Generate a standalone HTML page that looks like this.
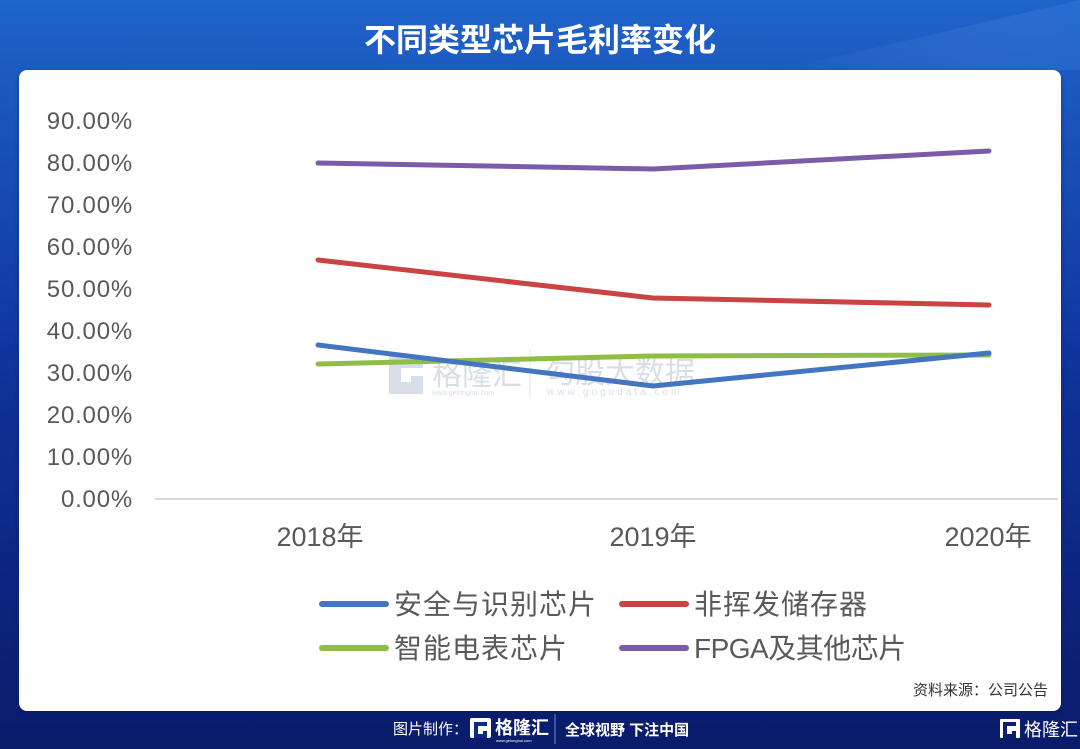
<!DOCTYPE html>
<html>
<head>
<meta charset="utf-8">
<style>
html,body{margin:0;padding:0;}
body{width:1080px;height:749px;overflow:hidden;}
svg{display:block;}
</style>
</head>
<body>
<svg width="1080" height="749" viewBox="0 0 1080 749" xmlns="http://www.w3.org/2000/svg">
  <defs>
    <linearGradient id="bg" x1="0" y1="0" x2="0" y2="1">
      <stop offset="0" stop-color="#1f64cb"/>
      <stop offset="0.15" stop-color="#1a55bb"/>
      <stop offset="0.5" stop-color="#0f339a"/>
      <stop offset="1" stop-color="#0a1b6a"/>
    </linearGradient>
    <linearGradient id="sheen" x1="0" y1="0" x2="1" y2="0">
      <stop offset="0" stop-color="#ffffff" stop-opacity="0"/>
      <stop offset="1" stop-color="#5aa0ff" stop-opacity="0.15"/>
    </linearGradient>
    <filter id="sh" x="-5%" y="-5%" width="110%" height="110%">
      <feGaussianBlur stdDeviation="2"/>
    </filter>
  </defs>

  <!-- background -->
  <rect x="0" y="0" width="1080" height="749" fill="url(#bg)"/>
  <polygon points="780,70 1080,0 1080,70" fill="url(#sheen)"/>

  <!-- title -->
  <text x="540" y="51" text-anchor="middle" fill="#ffffff" font-size="32" font-weight="bold" font-family="'Liberation Sans','Noto Sans CJK SC',sans-serif">不同类型芯片毛利率变化</text>

  <!-- card -->
  <rect x="19" y="72" width="1042" height="641" rx="8" ry="8" fill="#0a1a60" opacity="0.5" filter="url(#sh)"/>
  <rect x="19" y="70" width="1042" height="641" rx="8" ry="8" fill="#ffffff"/>

  <!-- y labels -->
  <g font-family="'Liberation Sans',sans-serif" font-size="24" fill="#595959" text-anchor="end" letter-spacing="0.8">
    <text x="133" y="129">90.00%</text>
    <text x="133" y="171">80.00%</text>
    <text x="133" y="213">70.00%</text>
    <text x="133" y="255">60.00%</text>
    <text x="133" y="297">50.00%</text>
    <text x="133" y="339">40.00%</text>
    <text x="133" y="381">30.00%</text>
    <text x="133" y="423">20.00%</text>
    <text x="133" y="465">10.00%</text>
    <text x="133" y="507">0.00%</text>
  </g>

  <!-- x axis -->
  <line x1="155" y1="499" x2="1058" y2="499" stroke="#d9d9d9" stroke-width="2"/>

  <!-- x labels -->
  <g font-family="'Liberation Sans','Noto Sans CJK SC',sans-serif" font-size="27" fill="#595959" text-anchor="middle">
    <text x="320" y="546">2018年</text>
    <text x="653" y="546">2019年</text>
    <text x="988" y="546">2020年</text>
  </g>

  <!-- watermark -->
  <g opacity="0.55">
    <path d="M389,356 h34 v12 h-22 v14 h10 v-6 h12 v18 h-34 z" fill="#b8c4d6"/>
    <text x="432" y="385" font-family="'Liberation Sans','Noto Sans CJK SC',sans-serif" font-size="30" fill="#b8c4d6">格隆汇</text>
    <text x="432" y="395" font-family="'Liberation Sans',sans-serif" font-size="7" fill="#b8c4d6">www.gelonghui.com</text>
    <line x1="530" y1="350" x2="530" y2="398" stroke="#c8d0dc" stroke-width="1"/>
    <text x="545" y="383" font-family="'Liberation Sans','Noto Sans CJK SC',sans-serif" font-size="30" fill="#b8c4d6">勾股大数据</text>
    <text x="547" y="395" font-family="'Liberation Sans',sans-serif" font-size="10" fill="#b8c4d6" letter-spacing="3">www.gogudata.com</text>
  </g>

  <!-- series -->
  <g fill="none" stroke-width="5" stroke-linecap="round" stroke-linejoin="round">
    <polyline points="318,163 653,169 989,151" stroke="#7b5ca8"/>
    <polyline points="318,260 653,298 989,305" stroke="#c94442"/>
    <polyline points="318,364 653,356 989,355" stroke="#8fbd45"/>
    <polyline points="318,345 653,386 989,353" stroke="#4475c0"/>
  </g>

  <!-- legend -->
  <g stroke-width="6" stroke-linecap="round">
    <line x1="322" y1="604" x2="386" y2="604" stroke="#4475c0"/>
    <line x1="622" y1="604" x2="686" y2="604" stroke="#c94442"/>
    <line x1="322" y1="648" x2="386" y2="648" stroke="#8fbd45"/>
    <line x1="622" y1="648" x2="686" y2="648" stroke="#7b5ca8"/>
  </g>
  <g font-family="'Liberation Sans','Noto Sans CJK SC',sans-serif" font-size="28" fill="#595959">
    <text x="394" y="614" letter-spacing="1">安全与识别芯片</text>
    <text x="694" y="614" letter-spacing="1">非挥发储存器</text>
    <text x="394" y="658" letter-spacing="1">智能电表芯片</text>
    <text x="694" y="658" letter-spacing="-0.5">FPGA及其他芯片</text>
  </g>

  <!-- source -->
  <text x="1048" y="695" text-anchor="end" font-family="'Liberation Sans','Noto Sans CJK SC',sans-serif" font-size="15" fill="#333333">资料来源：公司公告</text>

  <!-- footer -->
  <g font-family="'Liberation Sans','Noto Sans CJK SC',sans-serif" fill="#ffffff">
    <text x="393" y="734" font-size="15">图片制作：</text>
    <rect x="470" y="718" width="21" height="20" rx="2" fill="#ffffff"/>
    <path d="M474,722 h13 v4 h-9 v8 h5 v-3 h4 v7 h-13 z" fill="#0d2a86"/>
    <text x="495" y="734" font-size="18" font-weight="bold">格隆汇</text>
    <text x="496" y="742" font-size="4">www.gelonghui.com</text>
    <line x1="555" y1="714" x2="555" y2="744" stroke="#6f86c8" stroke-width="1"/>
    <text x="565" y="735" font-size="15" font-weight="bold">全球视野 下注中国</text>

    <rect x="1000" y="719" width="20" height="19" rx="1" fill="#ffffff"/>
    <path d="M1003,722 h13 v4 h-9 v8 h5 v-3 h4 v7 h-13 z" fill="#0b1f72"/>
    <text x="1024" y="736" font-size="18">格隆汇</text>
  </g>
</svg>
</body>
</html>
